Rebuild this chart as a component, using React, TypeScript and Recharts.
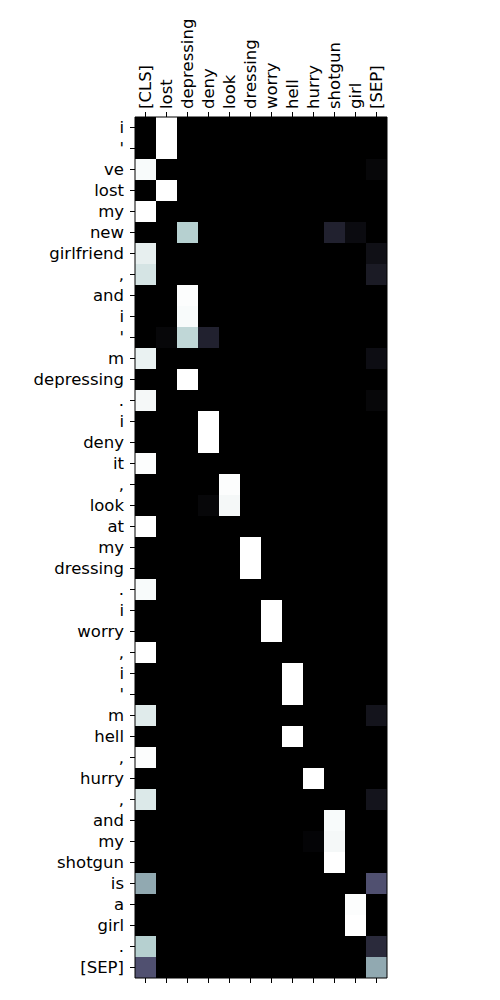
import React from "react";
import { BarChart, Bar, XAxis, YAxis, Cell } from "recharts";

const colLabels = ["[CLS]", "lost", "depressing", "deny", "look", "dressing", "worry", "hell", "hurry", "shotgun", "girl", "[SEP]"];

const rowLabels = [
  "i", "'", "ve", "lost", "my", "new", "girlfriend", ",", "and", "i", "'", "m", "depressing", ".",
  "i", "deny", "it", ",", "look", "at", "my", "dressing", ".", "i", "worry", ",", "i", "'", "m",
  "hell", ",", "hurry", ",", "and", "my", "shotgun", "is", "a", "girl", ".", "[SEP]",
];

// attention weights, one row per token (columns follow colLabels)
const attention: number[][] = [
  [0, 1, 0, 0, 0, 0, 0, 0, 0, 0, 0, 0],
  [0, 1, 0, 0, 0, 0, 0, 0, 0, 0, 0, 0],
  [0.98, 0, 0, 0, 0, 0, 0, 0, 0, 0, 0, 0.03],
  [0, 1, 0, 0, 0, 0, 0, 0, 0, 0, 0, 0],
  [1, 0, 0, 0, 0, 0, 0, 0, 0, 0, 0, 0],
  [0, 0, 0.79, 0, 0, 0, 0, 0, 0, 0.15, 0.05, 0],
  [0.93, 0, 0, 0, 0, 0, 0, 0, 0, 0, 0, 0.07],
  [0.88, 0, 0, 0, 0, 0, 0, 0, 0, 0, 0, 0.12],
  [0, 0, 0.99, 0, 0, 0, 0, 0, 0, 0, 0, 0],
  [0, 0, 0.98, 0, 0, 0, 0, 0, 0, 0, 0, 0],
  [0, 0.03, 0.82, 0.15, 0, 0, 0, 0, 0, 0, 0, 0],
  [0.94, 0, 0, 0, 0, 0, 0, 0, 0, 0, 0, 0.06],
  [0, 0, 1, 0, 0, 0, 0, 0, 0, 0, 0, 0],
  [0.97, 0, 0, 0, 0, 0, 0, 0, 0, 0, 0, 0.03],
  [0, 0, 0, 1, 0, 0, 0, 0, 0, 0, 0, 0],
  [0, 0, 0, 1, 0, 0, 0, 0, 0, 0, 0, 0],
  [0.99, 0, 0, 0, 0, 0, 0, 0, 0, 0, 0, 0],
  [0, 0, 0, 0, 0.99, 0, 0, 0, 0, 0, 0, 0],
  [0, 0, 0, 0.03, 0.97, 0, 0, 0, 0, 0, 0, 0],
  [1, 0, 0, 0, 0, 0, 0, 0, 0, 0, 0, 0],
  [0, 0, 0, 0, 0, 1, 0, 0, 0, 0, 0, 0],
  [0, 0, 0, 0, 0, 1, 0, 0, 0, 0, 0, 0],
  [0.98, 0, 0, 0, 0, 0, 0, 0, 0, 0, 0, 0],
  [0, 0, 0, 0, 0, 0, 1, 0, 0, 0, 0, 0],
  [0, 0, 0, 0, 0, 0, 1, 0, 0, 0, 0, 0],
  [1, 0, 0, 0, 0, 0, 0, 0, 0, 0, 0, 0],
  [0, 0, 0, 0, 0, 0, 0, 1, 0, 0, 0, 0],
  [0, 0, 0, 0, 0, 0, 0, 1, 0, 0, 0, 0],
  [0.91, 0, 0, 0, 0, 0, 0, 0, 0, 0, 0, 0.09],
  [0, 0, 0, 0, 0, 0, 0, 1, 0, 0, 0, 0],
  [0.99, 0, 0, 0, 0, 0, 0, 0, 0, 0, 0, 0],
  [0, 0, 0, 0, 0, 0, 0, 0, 1, 0, 0, 0],
  [0.9, 0, 0, 0, 0, 0, 0, 0, 0, 0, 0, 0.09],
  [0, 0, 0, 0, 0, 0, 0, 0, 0, 0.98, 0, 0],
  [0, 0, 0, 0, 0, 0, 0, 0, 0.02, 0.97, 0, 0],
  [0, 0, 0, 0, 0, 0, 0, 0, 0, 1, 0, 0],
  [0.65, 0, 0, 0, 0, 0, 0, 0, 0, 0, 0, 0.36],
  [0, 0, 0, 0, 0, 0, 0, 0, 0, 0, 0.99, 0],
  [0, 0, 0, 0, 0, 0, 0, 0, 0, 0, 1, 0],
  [0.79, 0, 0, 0, 0, 0, 0, 0, 0, 0, 0, 0.19],
  [0.36, 0, 0, 0, 0, 0, 0, 0, 0, 0, 0, 0.65],
];

// matplotlib "bone" colormap
function interp(v: number, pts: number[][]): number {
  for (let i = 1; i < pts.length; i++) {
    if (v <= pts[i][0]) {
      const [x0, y0] = pts[i - 1];
      const [x1, y1] = pts[i];
      return y0 + ((v - x0) / (x1 - x0)) * (y1 - y0);
    }
  }
  return pts[pts.length - 1][1];
}
function bone(v: number): string {
  const t = Math.max(0, Math.min(1, v));
  const r = interp(t, [[0, 0], [0.746032, 0.652778], [1, 1]]);
  const g = interp(t, [[0, 0], [0.365079, 0.319444], [0.746032, 0.777778], [1, 1]]);
  const b = interp(t, [[0, 0], [0.365079, 0.444444], [1, 1]]);
  return `rgb(${Math.round(r * 255)},${Math.round(g * 255)},${Math.round(b * 255)})`;
}

const data = rowLabels.map((label, r) => {
  const o: Record<string, number | string> = { row: r, label };
  colLabels.forEach((_, c) => {
    o["c" + c] = 1;
  });
  return o;
});

const colTicks = colLabels.map((_, i) => i + 0.5);
const FONT = "DejaVu Sans";
const FS = 16.5;

const TopTick = (props: any) => {
  const { x, y, payload } = props;
  const idx = Math.floor(payload.value);
  return (
    <text
      x={x}
      y={y}
      transform={`rotate(-90, ${x}, ${y})`}
      textAnchor="start"
      dominantBaseline="central"
      fontFamily={FONT}
      fontSize={FS}
      fill="#000"
    >
      {colLabels[idx]}
    </text>
  );
};

const LeftTick = (props: any) => {
  const { x, y, payload } = props;
  return (
    <text x={x} y={y} textAnchor="end" dominantBaseline="central" fontFamily={FONT} fontSize={FS} fill="#000">
      {rowLabels[payload.value]}
    </text>
  );
};

export default function App() {
  return (
    <BarChart
      width={484}
      height={982}
      data={data}
      layout="vertical"
      barCategoryGap={0}
      barGap={0}
      margin={{ top: 0, right: 104, bottom: 0, left: 0 }}
    >
      <XAxis
        xAxisId="top"
        type="number"
        orientation="top"
        domain={[0, 12]}
        allowDataOverflow
        ticks={colTicks}
        interval={0}
        height={109}
        tick={<TopTick />}
        tickSize={5}
        tickMargin={3}
        tickLine={{ stroke: "#000" }}
        axisLine={{ stroke: "#000" }}
      />
      <XAxis
        xAxisId="bottom"
        type="number"
        orientation="bottom"
        domain={[0, 12]}
        allowDataOverflow
        ticks={colTicks}
        interval={0}
        height={12}
        tickFormatter={() => ""}
        tickSize={5}
        tickLine={{ stroke: "#000" }}
        axisLine={{ stroke: "#000" }}
      />
      <YAxis
        yAxisId="left"
        type="category"
        dataKey="row"
        width={127}
        interval={0}
        tick={<LeftTick />}
        tickSize={5}
        tickMargin={6}
        tickLine={{ stroke: "#000" }}
        axisLine={{ stroke: "#000" }}
      />
      <YAxis
        yAxisId="right"
        type="category"
        dataKey="row"
        orientation="right"
        width={1}
        tick={false}
        tickLine={false}
        axisLine={{ stroke: "#000" }}
      />
      {colLabels.map((_, c) => (
        <Bar
          key={c}
          dataKey={"c" + c}
          stackId="s"
          xAxisId="top"
          yAxisId="left"
          isAnimationActive={false}
        >
          {data.map((_, r) => (
            <Cell key={r} fill={bone(attention[r][c])} />
          ))}
        </Bar>
      ))}
    </BarChart>
  );
}
